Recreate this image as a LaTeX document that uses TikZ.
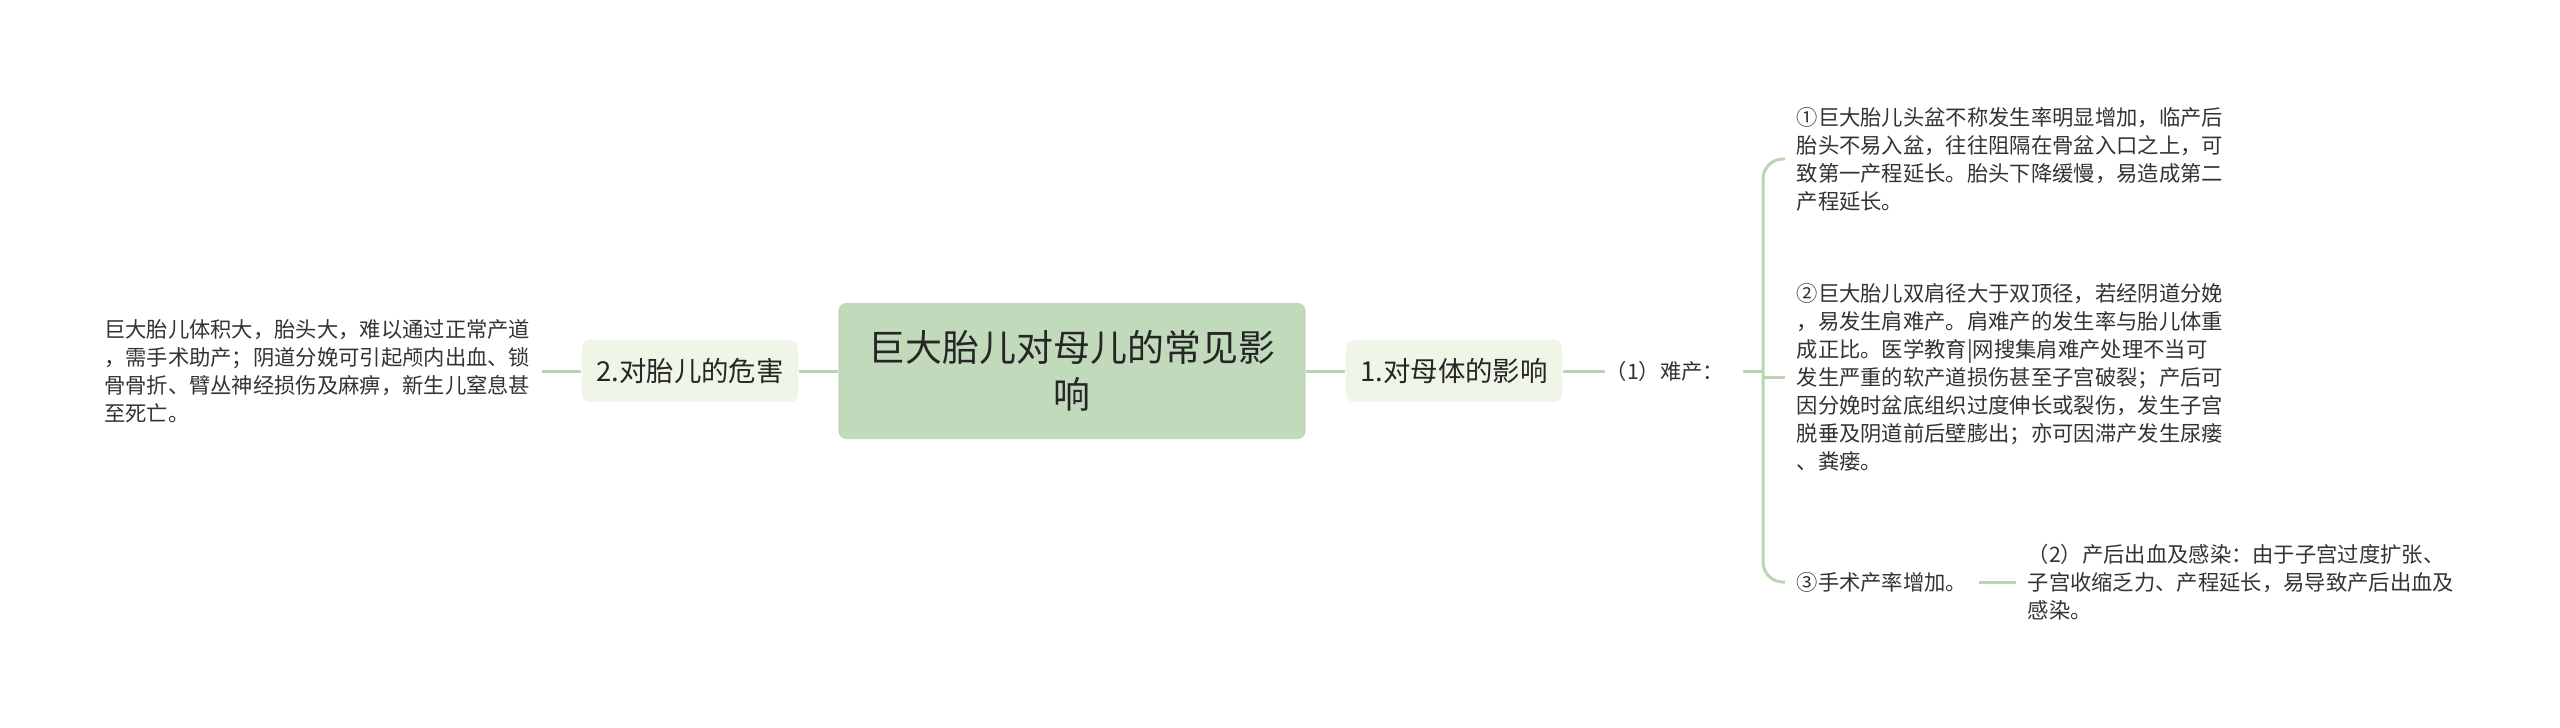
\documentclass[tikz,border=0pt]{standalone}
\usepackage{fontspec}
\setmainfont{Noto Sans CJK SC}
\usepackage{xcolor}
\definecolor{rootfill}{HTML}{C0DABB}
\definecolor{topicfill}{HTML}{EFF5E7}
\definecolor{linkgreen}{HTML}{B9D5B1}
\definecolor{inktext}{HTML}{333333}

\begin{document}
\begin{tikzpicture}[x=0.01cm, y=-0.01cm]
    \tikzset{root/.style = {shape=rectangle, rounded corners=0.08cm, fill=rootfill, minimum width=4.67cm, minimum height=1.36cm, align=center, inner sep=0, text=black!85, font=\fontsize{10.5}{13.4}\selectfont}}
    \tikzset{topic/.style = {shape=rectangle, rounded corners=0.08cm, fill=topicfill, minimum width=2.16cm, minimum height=0.62cm, inner sep=0, text=black!85, font=\fontsize{7.8}{9}\selectfont}}
    \tikzset{leaf/.style = {align=left, inner xsep=0.11cm, inner ysep=0, text=inktext, font=\fontsize{6.06}{7.97}\selectfont}}
    \tikzset{link/.style = {draw=linkgreen, line width=0.85pt}}

    \useasboundingbox (0,0) rectangle (2560,727);

    % vertices
    \node[root] (main) at (1072,371) {巨大胎儿对母儿的常见影\\响};
    \node[topic] (fetus) at (690,371) {2.对胎儿的危害};
    \node[topic] (mother) at (1454,371) {1.对母体的影响};
    \node[leaf, anchor=east] (fetusharm) at (542,371) {巨大胎儿体积大，胎头大，难以通过正常产道\\，需手术助产；阴道分娩可引起颅内出血、锁\\骨骨折、臂丛神经损伤及麻痹，新生儿窒息甚\\至死亡。};
    \node[leaf, anchor=west, inner xsep=0] (dystocia) at (1605,371) {（1）难产：};
    \node[leaf, anchor=west] (cephalo) at (1785,159) {①巨大胎儿头盆不称发生率明显增加，临产后\\胎头不易入盆，往往阻隔在骨盆入口之上，可\\致第一产程延长。胎头下降缓慢，易造成第二\\产程延长。};
    \node[leaf, anchor=west] (shoulder) at (1785,377) {②巨大胎儿双肩径大于双顶径，若经阴道分娩\\，易发生肩难产。肩难产的发生率与胎儿体重\\成正比。医学教育|网搜集肩难产处理不当可\\发生严重的软产道损伤甚至子宫破裂；产后可\\因分娩时盆底组织过度伸长或裂伤，发生子宫\\脱垂及阴道前后壁膨出；亦可因滞产发生尿瘘\\、粪瘘。};
    \node[leaf, anchor=west] (surgery) at (1785,582) {③手术产率增加。};
    \node[leaf, anchor=west] (bleeding) at (2016,582) {（2）产后出血及感染：由于子宫过度扩张、\\子宫收缩乏力、产程延长，易导致产后出血及\\感染。};
    \coordinate (trunk) at (1763,371);

    % edges
    \draw[link] (fetusharm) -- (fetus);
    \draw[link] (fetus) -- (main);
    \draw[link] (main) -- (mother);
    \draw[link] (mother) -- (dystocia);
    \draw[link, shorten <=0.18cm] (dystocia) -- (trunk);
    \draw[link, rounded corners=0.2cm] (cephalo.west) -| (trunk) |- (surgery.west);
    \draw[link] (trunk |- shoulder.west) -- (shoulder.west);
    \draw[link] (surgery) -- (bleeding);
\end{tikzpicture}
\end{document}
